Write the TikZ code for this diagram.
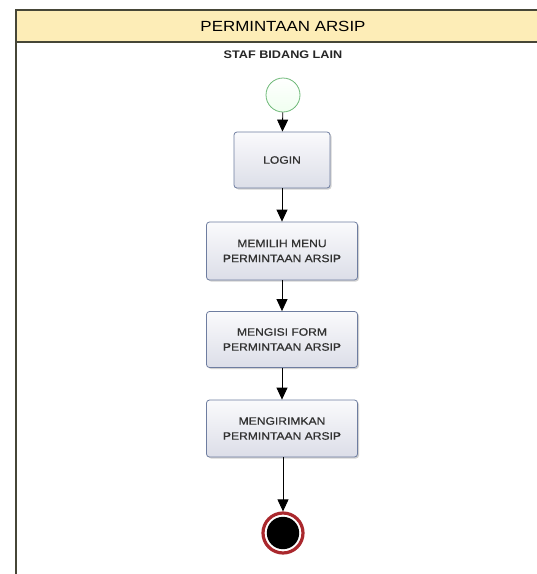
\documentclass[tikz,border=0pt]{standalone}
\usepackage{fontspec}
\setmainfont[FakeStretch=1.15]{Liberation Sans}
\newfontfamily\boxfont[FakeStretch=1.13,FakeBold=0.8]{Liberation Sans}
\usetikzlibrary{arrows.meta,shadows,positioning}
\definecolor{headfill}{RGB}{253,237,183}
\definecolor{framecol}{RGB}{70,70,55}
\definecolor{boxedge}{RGB}{110,125,160}
\definecolor{boxtop}{RGB}{250,250,252}
\definecolor{boxbot}{RGB}{220,222,232}
\definecolor{txtcol}{RGB}{50,50,50}
\definecolor{startedge}{RGB}{110,185,120}
\definecolor{endring}{RGB}{170,40,45}
\tikzset{
  x=1pt, y=-1pt,
  actbox/.style={draw=boxedge, line width=0.8pt, rounded corners=3pt,
    top color=boxtop, bottom color=boxbot, text=txtcol,
    font=\boxfont\fontsize{10.7}{15}\selectfont, align=center,
    drop shadow={shadow xshift=1.5pt, shadow yshift=-1.5pt, opacity=0.35}},
  flow/.style={draw=black, line width=0.8pt, -{Triangle[width=11pt,length=12pt]}},
  startnode/.style={circle, draw=startedge, line width=0.8pt, minimum size=34pt,
    inner sep=0pt, top color=white, bottom color=green!6},
  endnode/.style={circle, minimum size=40pt, inner sep=0pt, fill=white,
    draw=endring, line width=3.2pt,
    path picture={\fill[black] (path picture bounding box.center) circle (16.2pt);}}
}
\begin{document}
\begin{tikzpicture}
\useasboundingbox (0,0) rectangle (537,574);
\fill[white] (0,0) rectangle (537,574);
% swimlane frame and header
\draw[framecol, line width=1.4pt] (16,574) -- (16,10);
\filldraw[fill=headfill, draw=framecol, line width=1.4pt] (16,10) rectangle (545,42);
\node[font=\fontsize{14.7}{18}\selectfont, text=black] (title) at (283,26) {PERMINTAAN ARSIP};
\node[font=\fontsize{11}{13}\selectfont\bfseries, text=black!85] (lane) at (283,55) {STAF BIDANG LAIN};
% activity nodes
\node[startnode] (start) at (283,95) {};
\node[actbox, minimum width=96pt, minimum height=56pt] (login) at (282,160) {LOGIN};
\node[actbox, minimum width=151pt, minimum height=58pt] (menu) at (282,251) {MEMILIH MENU\\PERMINTAAN ARSIP};
\node[actbox, minimum width=151pt, minimum height=56pt] (form) at (282,339.5) {MENGISI FORM\\PERMINTAAN ARSIP};
\node[actbox, minimum width=151pt, minimum height=57pt] (send) at (282,428.5) {MENGIRIMKAN\\PERMINTAAN ARSIP};
\node[endnode] (stop) at (283,533) {};
% connectors
\draw[flow] (start) -- (login);
\draw[flow] (login) -- (menu);
\draw[flow] (menu) -- (form);
\draw[flow] (form) -- (send);
\draw[flow] (send.south -| stop) -- (stop);
\end{tikzpicture}
\end{document}
